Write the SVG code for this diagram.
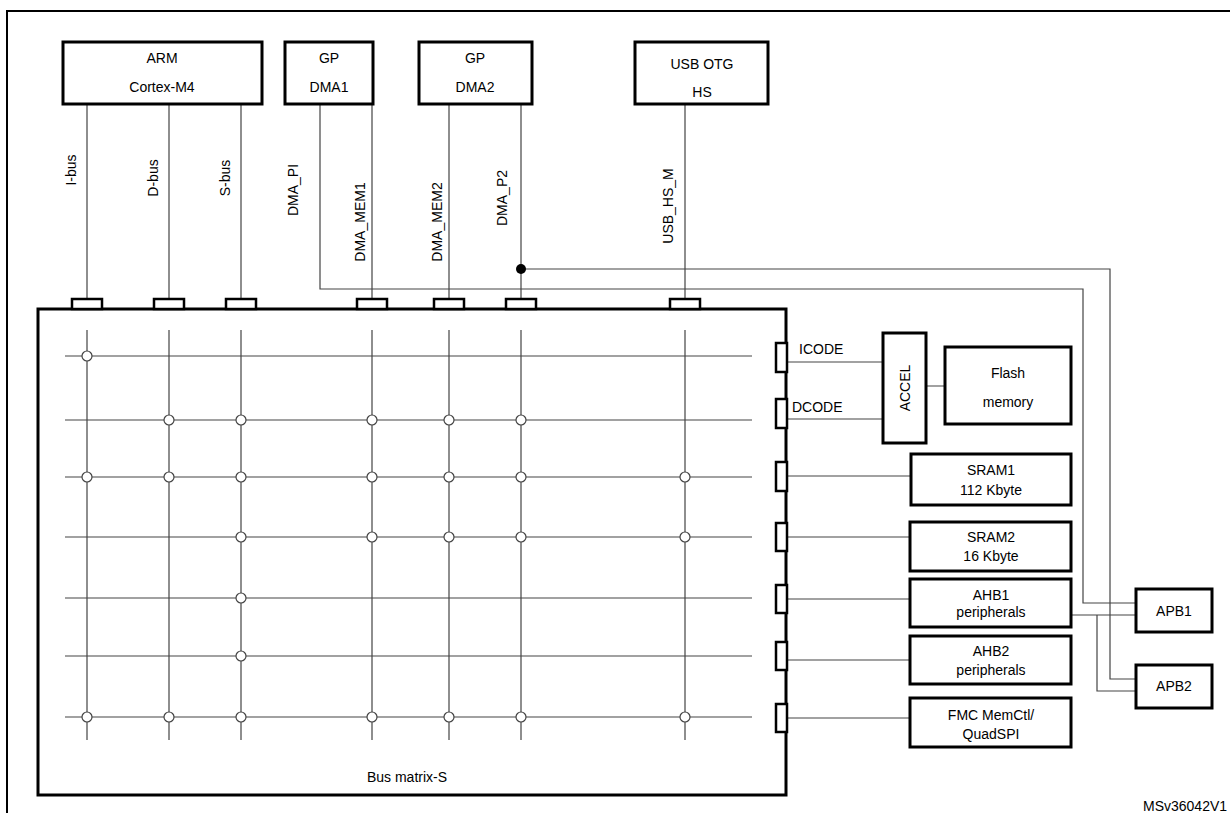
<svg xmlns="http://www.w3.org/2000/svg" width="1230" height="813" viewBox="0 0 1230 813">
<style>
.b{fill:#fff;stroke:#000;stroke-width:3}
.p{fill:#fff;stroke:#000;stroke-width:2.5}
.l{fill:none;stroke:#444;stroke-width:1.2}
.c{fill:#fff;stroke:#444;stroke-width:1.2}
text{font-family:"Liberation Sans",Arial,sans-serif;font-size:14px;fill:#000}
.m{text-anchor:middle}
</style>
<rect width="1230" height="813" fill="#fff"/>
<path d="M7 813V11H1230" fill="none" stroke="#000" stroke-width="2"/>
<g id="connectors">
<path class="l" d="M87 104V299M169 104V299M241 104V299M372 104V299M449 104V299M521 104V299M685 104V299"/>
<path class="l" d="M320 104V289H1083V603H1135"/>
<path class="l" d="M521 269H1110V679H1135"/>
<path class="l" d="M1071 615H1135M1097 615V691H1135"/>
<path class="l" d="M787 362H883M787 419H883M926 386H945M787 476H911M787 537H910M787 599H910M787 660H910M787 718H910"/>
<circle cx="521" cy="269" r="5" fill="#000"/>
</g>
<g id="labels">
<text class="m" transform="translate(76,170) rotate(-90)">I-bus</text>
<text class="m" transform="translate(158,178) rotate(-90)">D-bus</text>
<text class="m" transform="translate(230,178) rotate(-90)">S-bus</text>
<text class="m" transform="translate(298,190) rotate(-90)">DMA_PI</text>
<text class="m" transform="translate(365,222) rotate(-90)">DMA_MEM1</text>
<text class="m" transform="translate(442,222) rotate(-90)">DMA_MEM2</text>
<text class="m" transform="translate(507,198) rotate(-90)">DMA_P2</text>
<text class="m" transform="translate(673,206) rotate(-90)">USB_HS_M</text>
<text x="799" y="354">ICODE</text>
<text x="792" y="412">DCODE</text>
<text x="1143" y="811">MSv36042V1</text>
</g>
<g id="arm"><rect class="b" x="63" y="42" width="199" height="62"/><text class="m" x="162" y="63">ARM</text><text class="m" x="162" y="92">Cortex-M4</text></g>
<g id="dma1"><rect class="b" x="285" y="42" width="88" height="62"/><text class="m" x="329" y="63">GP</text><text class="m" x="329" y="92">DMA1</text></g>
<g id="dma2"><rect class="b" x="419" y="42" width="113" height="62"/><text class="m" x="475" y="63">GP</text><text class="m" x="475" y="92">DMA2</text></g>
<g id="usb"><rect class="b" x="635" y="42" width="133" height="62"/><text class="m" x="702" y="69">USB OTG</text><text class="m" x="702" y="97">HS</text></g>
<g id="busmatrix">
<rect class="b" x="38" y="309" width="748" height="486"/>
<path class="l" d="M65 356H752M65 420H752M65 477H752M65 537H752M65 598H752M65 656H752M65 717H752M87 330V740M169 330V740M241 330V740M372 330V740M449 330V740M521 330V740M685 330V740"/>
<g class="c">
<circle cx="87" cy="356" r="5"/>
<circle cx="169" cy="420" r="5"/><circle cx="241" cy="420" r="5"/><circle cx="372" cy="420" r="5"/><circle cx="449" cy="420" r="5"/><circle cx="521" cy="420" r="5"/>
<circle cx="87" cy="477" r="5"/><circle cx="169" cy="477" r="5"/><circle cx="241" cy="477" r="5"/><circle cx="372" cy="477" r="5"/><circle cx="449" cy="477" r="5"/><circle cx="521" cy="477" r="5"/><circle cx="685" cy="477" r="5"/>
<circle cx="241" cy="537" r="5"/><circle cx="372" cy="537" r="5"/><circle cx="449" cy="537" r="5"/><circle cx="521" cy="537" r="5"/><circle cx="685" cy="537" r="5"/>
<circle cx="241" cy="598" r="5"/><circle cx="241" cy="656" r="5"/>
<circle cx="87" cy="717" r="5"/><circle cx="169" cy="717" r="5"/><circle cx="241" cy="717" r="5"/><circle cx="372" cy="717" r="5"/><circle cx="449" cy="717" r="5"/><circle cx="521" cy="717" r="5"/><circle cx="685" cy="717" r="5"/>
</g>
<g class="p">
<rect x="72" y="299" width="30" height="10"/><rect x="154" y="299" width="30" height="10"/><rect x="226" y="299" width="30" height="10"/><rect x="357" y="299" width="30" height="10"/><rect x="434" y="299" width="30" height="10"/><rect x="506" y="299" width="30" height="10"/><rect x="670" y="299" width="30" height="10"/>
<rect x="776" y="343" width="11" height="29"/><rect x="776" y="399" width="11" height="29"/><rect x="776" y="462" width="11" height="29"/><rect x="776" y="523" width="11" height="28"/><rect x="776" y="585" width="11" height="28"/><rect x="776" y="642" width="11" height="28"/><rect x="776" y="704" width="11" height="28"/>
</g>
<text class="m" x="407" y="782">Bus matrix-S</text>
</g>
<g id="accel"><rect class="b" x="883" y="333" width="43" height="110"/><text class="m" transform="translate(910,388) rotate(-90)">ACCEL</text></g>
<g id="flash"><rect class="b" x="945" y="347" width="126" height="77"/><text class="m" x="1008" y="378">Flash</text><text class="m" x="1008" y="407">memory</text></g>
<g id="sram1"><rect class="b" x="911" y="454" width="160" height="51"/><text class="m" x="991" y="475">SRAM1</text><text class="m" x="991" y="495">112 Kbyte</text></g>
<g id="sram2"><rect class="b" x="910" y="522" width="161" height="49"/><text class="m" x="991" y="542">SRAM2</text><text class="m" x="991" y="561">16 Kbyte</text></g>
<g id="ahb1"><rect class="b" x="910" y="579" width="161" height="48"/><text class="m" x="991" y="600">AHB1</text><text class="m" x="991" y="617">peripherals</text></g>
<g id="ahb2"><rect class="b" x="910" y="636" width="161" height="48"/><text class="m" x="991" y="656">AHB2</text><text class="m" x="991" y="675">peripherals</text></g>
<g id="fmc"><rect class="b" x="910" y="698" width="161" height="49"/><text class="m" x="991" y="720">FMC MemCtl/</text><text class="m" x="991" y="739">QuadSPI</text></g>
<g id="apb1"><rect class="b" x="1136" y="589" width="76" height="43"/><text class="m" x="1174" y="616">APB1</text></g>
<g id="apb2"><rect class="b" x="1136" y="665" width="76" height="43"/><text class="m" x="1174" y="691">APB2</text></g>
</svg>
